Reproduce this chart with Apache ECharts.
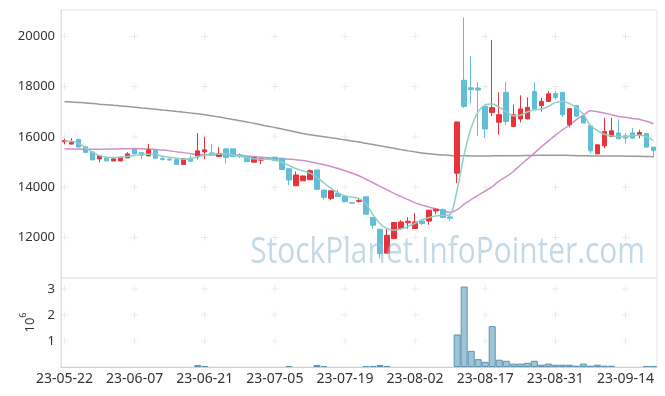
<!DOCTYPE html>
<html><head><meta charset="utf-8">
<script src="https://cdn.jsdelivr.net/npm/echarts@6/dist/echarts.min.js"></script>
<style>html,body{margin:0;padding:0;background:#fff}#c{width:665px;height:396px}</style>
</head><body><div id="c"></div>
<script>
const dates = ['23-05-22','23-05-23','23-05-24','23-05-25','23-05-26','23-05-30','23-05-31','23-06-01','23-06-02','23-06-05',
'23-06-07','23-06-08','23-06-09','23-06-12','23-06-13','23-06-14','23-06-15','23-06-16','23-06-19','23-06-20',
'23-06-21','23-06-22','23-06-23','23-06-26','23-06-27','23-06-28','23-06-29','23-06-30','23-07-03','23-07-04',
'23-07-05','23-07-06','23-07-07','23-07-10','23-07-11','23-07-12','23-07-13','23-07-14','23-07-17','23-07-18',
'23-07-19','23-07-20','23-07-21','23-07-24','23-07-25','23-07-26','23-07-27','23-07-28','23-07-31','23-08-01',
'23-08-02','23-08-03','23-08-04','23-08-07','23-08-08','23-08-09','23-08-10','23-08-11','23-08-14','23-08-16',
'23-08-17','23-08-18','23-08-21','23-08-22','23-08-23','23-08-24','23-08-25','23-08-28','23-08-29','23-08-30',
'23-08-31','23-09-01','23-09-04','23-09-05','23-09-06','23-09-07','23-09-08','23-09-11','23-09-12','23-09-13',
'23-09-14','23-09-15','23-09-18','23-09-19','23-09-20'];

const opens = [15800,15710,15900,15600,15400,15120,15160,15040,15040,15160,
15500,15370,15240,15450,15130,15110,15100,14900,15150,15240,
15400,15360,15220,15520,15520,15280,15210,14990,15070,15140,
15190,15150,14730,14050,14250,14290,14680,13880,13550,13750,
13640,13380,13430,13610,12790,12320,11370,11950,12350,12580,
12350,12650,12650,13050,13100,12810,14550,18250,17950,17940,
17210,16970,16580,17770,16410,16710,16710,17800,17240,17410,
17720,17770,16480,17240,16810,16440,15320,15640,16010,16150,
16040,16150,16050,16130,15590];
const closes = [15850,15770,15590,15380,15080,15240,15040,15120,15190,15320,
15320,15270,15480,15150,15100,15080,14900,15130,15030,15440,
15480,15290,15330,15180,15210,15220,15010,15170,15130,15120,
15050,14700,14280,14480,14440,14650,13910,13590,13850,13620,
13410,13360,13460,12920,12480,11350,12080,12590,12610,12640,
12610,12550,13080,13120,12790,12760,16590,17210,17880,17860,
16310,17160,16880,16610,16880,17110,17170,17120,17410,17710,
17560,16880,17120,16820,16550,15440,15680,16210,16240,15920,
15950,15950,16170,15590,15450];
const lows = [15700,15700,15590,15370,15070,14990,15030,15030,15030,15150,
15310,15110,15230,15140,15050,15050,14890,14890,15010,15100,
15110,15280,15200,14950,15200,15150,15000,14980,14910,15100,
15040,14690,14080,14040,14240,14280,13900,13500,13480,13610,
13400,13350,13380,12910,12350,11150,11360,11940,12340,12340,
12340,12480,12500,12920,12780,12650,14150,17150,17350,16040,
15960,16830,16080,16480,16400,16570,16700,17110,17000,17400,
17480,16790,16370,16810,16540,15350,15310,15550,16000,15910,
15730,15940,15940,15580,15200];
const highs = [15920,15950,15910,15620,15410,15260,15200,15170,15200,15390,
15510,15380,15720,15460,15200,15150,15110,15150,15270,16150,
16000,15720,15590,15530,15530,15350,15220,15180,15140,15200,
15200,15160,14740,14620,14460,14700,14690,13890,13860,13900,
13650,13390,13520,13620,12800,12330,12350,12600,12680,12800,
12970,12700,13090,13140,13150,12900,16600,20750,19210,18170,
17250,19850,17770,18190,17280,17650,17570,18170,17550,17810,
17830,17780,17130,17250,16820,16450,15690,16750,16750,16700,
16150,16350,16280,16140,15600];
// volume in units of 10^6 shares (0 = no visible bar)
const volumes = [0,0,0,0,0,0,0,0,0,0,
0,0,0,0,0,0,0,0,0,0.08,
0.04,0,0,0,0,0,0,0,0,0,
0,0,0.04,0,0,0,0.08,0.04,0,0,
0,0,0,0.03,0.04,0.08,0.04,0,0,0,
0,0,0,0,0,0,1.25,3.09,0.62,0.30,
0.20,1.57,0.28,0.24,0.13,0.13,0.16,0.24,0.09,0.13,
0.09,0.09,0.09,0.05,0.13,0.05,0.09,0.05,0.05,0,
0,0,0,0.04,0.04];
const ma5 = [15830,15820,15750,15565,15380,15250,15185,15175,15190,15220,
15255,15295,15310,15295,15230,15185,15150,15110,15130,15210,
15275,15315,15320,15315,15290,15230,15165,15125,15110,15105,
15070,14990,14860,14730,14645,14555,14390,14160,13950,13770,
13650,13600,13550,13330,12890,12550,12340,12285,12330,12435,
12560,12700,12790,12850,12870,12900,13900,15300,16360,17000,
17270,17310,17180,17000,16840,16860,16990,17075,17105,17200,
17370,17410,17330,17150,16900,16450,16250,16100,16040,16013,
16013,16040,16070,16000,15850];
const ma20 = [15520,15515,15510,15505,15505,15507,15510,15515,15520,15525,
15530,15525,15510,15490,15470,15440,15400,15370,15330,15300,
15285,15280,15280,15280,15270,15255,15235,15210,15185,15170,
15150,15130,15110,15090,15060,15010,14950,14890,14820,14740,
14650,14560,14450,14310,14170,14030,13890,13750,13620,13500,
13370,13280,13200,13120,13050,12990,13100,13320,13500,13680,
13840,14020,14250,14410,14620,14870,15110,15350,15600,15830,
16060,16270,16470,16680,16860,17040,17000,16950,16880,16810,
16780,16730,16690,16620,16520];
const ma60 = [17400,17385,17370,17350,17325,17300,17280,17255,17230,17205,
17180,17150,17125,17095,17065,17040,17010,16980,16945,16915,
16880,16835,16790,16740,16690,16640,16590,16540,16480,16420,
16370,16310,16250,16190,16130,16080,16040,16000,15960,15920,
15880,15830,15790,15740,15690,15640,15590,15540,15490,15440,
15400,15360,15330,15300,15280,15260,15250,15245,15240,15240,
15240,15242,15245,15248,15250,15250,15255,15260,15265,15270,
15270,15265,15258,15250,15245,15240,15238,15236,15234,15232,
15230,15226,15222,15216,15210];

const priceTicks = [12000,14000,16000,18000,20000];
const volumeTicks = [1,2,3];
const dateTickStep = 10;

const UP = '#e8333b', DOWN = '#62bdd6';
const FONT = 'Noto Sans';
const candleData = dates.map((d,i)=>[opens[i],closes[i],lows[i],highs[i]]);
const volumeData = volumes.map(v => v > 0 ? v : {value:v, itemStyle:{borderWidth:0}});
const tickIdx = dates.map((d,i)=>i).filter(i=>i%dateTickStep===0);
const priceMarks = []; tickIdx.forEach(i=>priceTicks.forEach(v=>priceMarks.push([i,v])));
const volMarks = []; tickIdx.forEach(i=>volumeTicks.forEach(v=>volMarks.push([i,v])));
const plusPath = 'path://M0,4.5L10,4.5L10,5.5L0,5.5ZM4.5,0L5.5,0L5.5,10L4.5,10Z';
const plain = v => String(v);

const chart = echarts.init(document.getElementById('c'));
chart.setOption({
  animation:false,
  backgroundColor:'#fff',
  grid:[
    {left:61,right:8,top:10,height:268,show:true,borderColor:'#e4e4e4',borderWidth:1,backgroundColor:'transparent'},
    {left:61,right:8,top:278,height:89,show:true,borderColor:'#e4e4e4',borderWidth:1,backgroundColor:'transparent'}
  ],
  xAxis:[
    {type:'category',gridIndex:0,data:dates,boundaryGap:true,axisLabel:{show:false},axisTick:{show:false},axisLine:{show:false},splitLine:{show:false}},
    {type:'category',gridIndex:1,data:dates,boundaryGap:true,z:10,
      axisLabel:{interval:dateTickStep-1,fontFamily:FONT,fontSize:14,color:'#333',margin:5},
      axisTick:{show:false},axisLine:{show:true,lineStyle:{color:'#cfcfcf'}},splitLine:{show:false}}
  ],
  yAxis:[
    {type:'value',gridIndex:0,min:10380,max:21047,scale:true,
      axisLabel:{customValues:priceTicks,formatter:plain,fontFamily:FONT,fontSize:13,color:'#333',margin:6},
      axisTick:{show:false},axisLine:{show:true,lineStyle:{color:'#e0e0e0'}},splitLine:{show:false}},
    {type:'value',gridIndex:1,min:0,max:3.42,
      name:'{b|10}{s|6}',nameLocation:'middle',nameGap:24,nameRotate:90,
      nameTextStyle:{color:'#333',fontFamily:FONT,rich:{b:{fontSize:13,fontFamily:FONT,color:'#333',lineHeight:18,verticalAlign:'bottom'},s:{fontSize:9,fontFamily:FONT,color:'#333',lineHeight:10,verticalAlign:'top'}}},
      axisLabel:{customValues:volumeTicks,formatter:plain,fontFamily:FONT,fontSize:13,color:'#333',margin:6},
      axisTick:{show:false},axisLine:{show:true,lineStyle:{color:'#e0e0e0'}},splitLine:{show:false}}
  ],
  graphic:[{type:'text',x:645,y:235,scaleX:0.83,z:100,silent:true,
    style:{text:'StockPlanet.InfoPointer.com',font:'36px "Open Sans"',textAlign:'right',textVerticalAlign:'top',fill:'rgba(150,188,208,0.56)'}}],
  series:[
    {type:'scatter',xAxisIndex:0,yAxisIndex:0,data:priceMarks,symbol:plusPath,symbolSize:7,itemStyle:{color:'#dddddd'},silent:true,z:0},
    {type:'scatter',xAxisIndex:1,yAxisIndex:1,data:volMarks,symbol:plusPath,symbolSize:7,itemStyle:{color:'#dddddd'},silent:true,z:0},
    {type:'line',name:'MA60',xAxisIndex:0,yAxisIndex:0,data:ma60,showSymbol:false,smooth:0.3,lineStyle:{color:'#9a9a9a',width:1.5},z:2},
    {type:'line',name:'MA20',xAxisIndex:0,yAxisIndex:0,data:ma20,showSymbol:false,smooth:0.3,lineStyle:{color:'#cf8fca',width:1.5},z:2},
    {type:'candlestick',xAxisIndex:0,yAxisIndex:0,data:candleData,barWidth:5,
      itemStyle:{color:UP,color0:DOWN,borderColor:UP,borderColor0:DOWN,borderWidth:1},z:3},
    {type:'line',name:'MA5',xAxisIndex:0,yAxisIndex:0,data:ma5,showSymbol:false,smooth:0.3,lineStyle:{color:'#8fd0c5',width:1.5},z:4},
    {type:'bar',xAxisIndex:1,yAxisIndex:1,data:volumeData,barWidth:'100%',
      itemStyle:{color:'#9ec5d7',borderColor:'#5e93ad',borderWidth:1},z:3}
  ]
});
</script></body></html>
